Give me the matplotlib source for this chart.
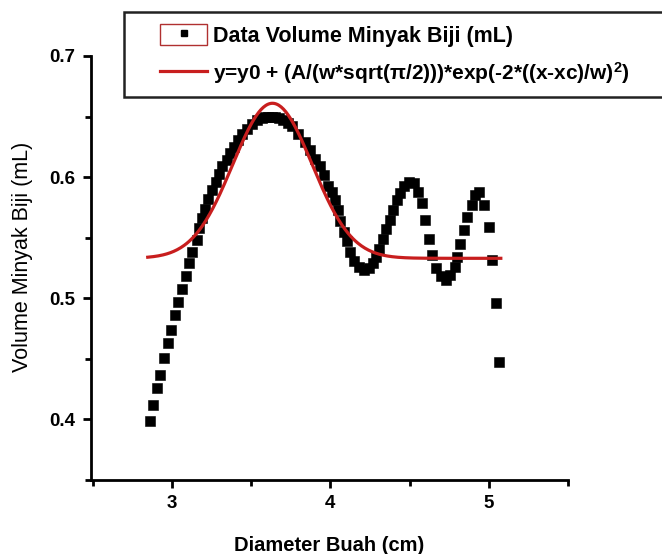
import matplotlib
matplotlib.use('Agg')
import matplotlib.pyplot as plt
from matplotlib.patches import Rectangle
from matplotlib.lines import Line2D
from matplotlib.legend_handler import HandlerTuple
from matplotlib.ticker import MultipleLocator
import numpy as np

plt.rcParams['font.family'] = ['Liberation Sans', 'DejaVu Sans']
plt.rcParams['mathtext.fontset'] = 'custom'
plt.rcParams['mathtext.rm'] = 'Liberation Sans:bold'
plt.rcParams['mathtext.bf'] = 'Liberation Sans:bold'
plt.rcParams['mathtext.default'] = 'bf'

# data: diameter (cm) vs volume (mL)
diameter = [2.863, 2.882, 2.909, 2.928, 2.951, 2.975, 2.992, 3.017, 3.038, 3.063,
            3.087, 3.106, 3.128, 3.156, 3.171, 3.188, 3.209, 3.230, 3.251, 3.277,
            3.297, 3.318, 3.346, 3.367, 3.394, 3.420, 3.445, 3.473, 3.504, 3.536,
            3.568, 3.589, 3.609, 3.631, 3.652, 3.677, 3.704, 3.731, 3.758, 3.799,
            3.842, 3.873, 3.905, 3.937, 3.958, 3.983, 4.011, 4.032, 4.047, 4.063,
            4.084, 4.106, 4.127, 4.147, 4.179, 4.211, 4.242, 4.268, 4.289, 4.310,
            4.331, 4.353, 4.375, 4.397, 4.418, 4.439, 4.464, 4.496, 4.527, 4.553,
            4.580, 4.597, 4.625, 4.644, 4.669, 4.696, 4.728, 4.758, 4.785, 4.802,
            4.818, 4.845, 4.865, 4.892, 4.915, 4.937, 4.972, 5.002, 5.023, 5.046,
            5.065]
volume = [0.399, 0.412, 0.426, 0.437, 0.451, 0.463, 0.474, 0.486, 0.497, 0.508,
          0.518, 0.529, 0.538, 0.548, 0.558, 0.566, 0.574, 0.582, 0.589, 0.596,
          0.603, 0.609, 0.614, 0.620, 0.625, 0.631, 0.636, 0.640, 0.644, 0.647,
          0.649, 0.650, 0.650, 0.650, 0.650, 0.649, 0.647, 0.645, 0.642, 0.636,
          0.629, 0.622, 0.615, 0.609, 0.602, 0.593, 0.588, 0.581, 0.573, 0.564,
          0.555, 0.547, 0.538, 0.531, 0.526, 0.523, 0.525, 0.529, 0.534, 0.541,
          0.549, 0.557, 0.565, 0.573, 0.581, 0.587, 0.593, 0.596, 0.595, 0.588,
          0.579, 0.565, 0.549, 0.536, 0.525, 0.518, 0.515, 0.519, 0.526, 0.534,
          0.545, 0.556, 0.567, 0.577, 0.585, 0.588, 0.577, 0.559, 0.532, 0.496,
          0.447]

# gaussian fit parameters (from the legend formula)
y0 = 0.533
xc = 3.635
w = 0.50
A = 0.0802
fit_range = (2.848, 5.076)

fig = plt.figure(figsize=(6.62, 5.54), dpi=100)
ax = fig.add_axes([91/662, 1-480/554, 477/662, 424/554])

ax.plot(diameter, volume, 's', color='black', ms=6.5, mec='black', mew=0.4, zorder=3)

xf = np.linspace(fit_range[0], fit_range[1], 300)
yf = y0 + (A/(w*np.sqrt(np.pi/2)))*np.exp(-2*((xf-xc)/w)**2)
fit_line, = ax.plot(xf, yf, '-', color='#c81e1e', lw=2.3, zorder=4)

ax.set_xlim(2.49, 5.5)
ax.set_ylim(0.35, 0.7)
ax.xaxis.set_minor_locator(MultipleLocator(0.5))
ax.yaxis.set_minor_locator(MultipleLocator(0.05))
ax.set_xticks([3, 4, 5])
ax.set_yticks([0.4, 0.5, 0.6, 0.7])
ax.set_yticklabels(['0.4', '0.5', '0.6', '0.7'])

for s in ['top', 'right']:
    ax.spines[s].set_visible(False)
for s in ['left', 'bottom']:
    ax.spines[s].set_linewidth(2)
ax.tick_params(which='major', direction='out', length=6, width=2, pad=5,
               labelsize=13.5)
ax.tick_params(which='minor', direction='out', length=4, width=2)
for lab in ax.get_xticklabels() + ax.get_yticklabels():
    lab.set_fontweight('bold')

ax.set_xlabel('Diameter Buah (cm)', fontsize=14.5, fontweight='bold')
ax.set_ylabel('Volume Minyak Biji (mL)', fontsize=15.5)
ax.xaxis.set_label_coords(0.5, -0.132)
ax.yaxis.set_label_coords(-0.122, 0.526)

# legend frame (runs past the right edge as in the original)
fig.patches.append(Rectangle((124/662, 1-97/554), 600/662, 85/554,
                             transform=fig.transFigure, facecolor='white',
                             edgecolor='#222222', lw=1.8, zorder=5))

box = Rectangle((0, 0), 1, 1, facecolor='white', edgecolor='#b03030', lw=1)
dot = Line2D([], [], marker='s', color='black', ms=5, ls='none')
leg = fig.legend([(box, dot), fit_line],
                 ['Data Volume Minyak Biji (mL)',
                  r'y=y0 + (A/(w*sqrt(π/2)))*exp(-2*((x-xc)/w)$^2$)'],
                 handler_map={tuple: HandlerTuple(ndivide=1)},
                 loc='upper left', bbox_to_anchor=(160/662, 1-24/554),
                 bbox_transform=fig.transFigure,
                 prop={'weight': 'bold', 'size': 15.5},
                 frameon=False, handlelength=2.2, handleheight=1.1,
                 handletextpad=0.25, borderpad=0, labelspacing=0.62,
                 borderaxespad=0)
leg.set_zorder(6)
leg.get_texts()[1].set_fontsize(15)

fig.savefig('out.png', dpi=100)
